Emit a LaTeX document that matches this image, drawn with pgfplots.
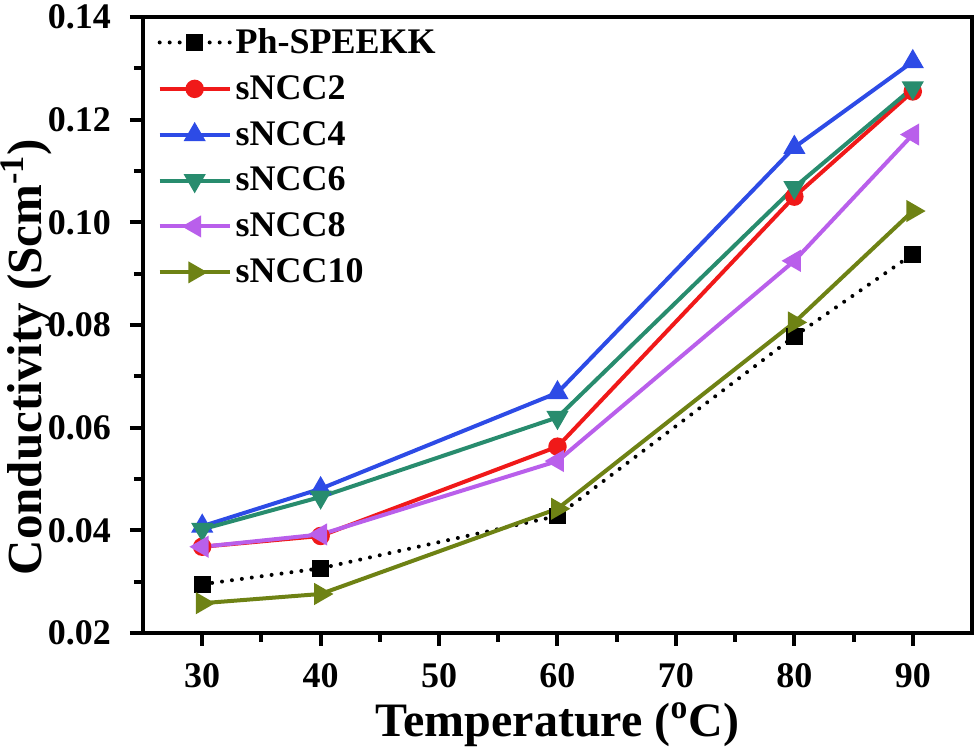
\documentclass[border=0pt]{standalone}
\usepackage{pgfplots}
\pgfplotsset{compat=1.18}
\usepackage{fontspec}
\setmainfont{Liberation Serif}
\definecolor{cred}{RGB}{240,25,25}
\definecolor{cblue}{RGB}{45,75,230}
\definecolor{cteal}{RGB}{40,140,110}
\definecolor{cpurple}{RGB}{185,95,235}
\definecolor{colive}{RGB}{110,130,20}
\begin{document}
\begin{tikzpicture}
\begin{axis}[
  at={(0,0)}, anchor=south west,
  width=414.5pt, height=308pt, scale only axis,
  xmin=25, xmax=95, ymin=0.02, ymax=0.14,
  xtick={30,40,50,60,70,80,90},
  ytick={0.02,0.04,0.06,0.08,0.10,0.12,0.14},
  minor x tick num=1, minor y tick num=1,
  tick align=outside, xtick pos=bottom, ytick pos=left,
  major tick length=6.5pt, minor tick length=4.5pt,
  every tick/.style={line width=2pt, black},
  axis line style={line width=1.8pt},
  tick label style={font=\fontsize{18}{21}\selectfont\bfseries},
  yticklabel style={/tikz/xshift=-6pt, /pgf/number format/fixed, /pgf/number format/fixed zerofill, /pgf/number format/precision=2, /pgf/number format/assume math mode=true},
  xticklabel style={/tikz/yshift=-5pt, /pgf/number format/assume math mode=true},
  xlabel={Temperature (\textsuperscript{o}C)},
  ylabel={Conductivity (Scm\textsuperscript{-1})},
  xlabel style={font=\fontsize{24}{28}\selectfont\bfseries, anchor=base, at={(axis description cs:0.5,0)}, yshift=-52pt},
  ylabel style={font=\fontsize{24.5}{28}\selectfont\bfseries, anchor=base, at={(axis description cs:0,0.448)}, yshift=50.5pt},
  legend style={at={(0.01,0.995)}, anchor=north west, draw=none, fill=none,
    font=\fontsize{18}{21}\selectfont\bfseries, row sep=5.5pt},
  legend cell align=left,
  legend image code/.code={\draw[mark repeat=2,mark phase=2,#1] plot coordinates {(0pt,0pt)(17.5pt,0pt)(35pt,0pt)};},
  every axis plot/.append style={line width=2pt},
]
\addplot[black, line width=2pt, line cap=round, dash pattern=on 0pt off 5pt, mark=square*, mark size=3.2pt, mark options={solid}]
  coordinates {(30,0.0295)(40,0.0326)(60,0.0428)(80,0.0778)(90,0.0938)};
\addlegendentry{Ph-SPEEKK}
\addplot[cred, mark=*, mark size=3.6pt]
  coordinates {(30,0.0368)(40,0.0389)(60,0.0563)(80,0.1050)(90,0.1255)};
\addlegendentry{sNCC2}
\addplot[cblue, mark=triangle*, mark size=4.4pt]
  coordinates {(30,0.0408)(40,0.0481)(60,0.0668)(80,0.1146)(90,0.1313)};
\addlegendentry{sNCC4}
\addplot[cteal, mark=triangle*, mark size=4.4pt, mark options={rotate=180}]
  coordinates {(30,0.0402)(40,0.0465)(60,0.0620)(80,0.1068)(90,0.1262)};
\addlegendentry{sNCC6}
\addplot[cpurple, mark=triangle*, mark size=4.4pt, mark options={rotate=90}]
  coordinates {(30,0.0368)(40,0.0392)(60,0.0535)(80,0.0925)(90,0.1171)};
\addlegendentry{sNCC8}
\addplot[colive, mark=triangle*, mark size=4.4pt, mark options={rotate=-90}]
  coordinates {(30,0.0258)(40,0.0276)(60,0.0442)(80,0.0805)(90,0.1022)};
\addlegendentry{sNCC10}
\end{axis}
\pgfresetboundingbox
\useasboundingbox (-71.5pt,-60pt) rectangle (418.5pt,316.5pt);
\end{tikzpicture}
\end{document}
